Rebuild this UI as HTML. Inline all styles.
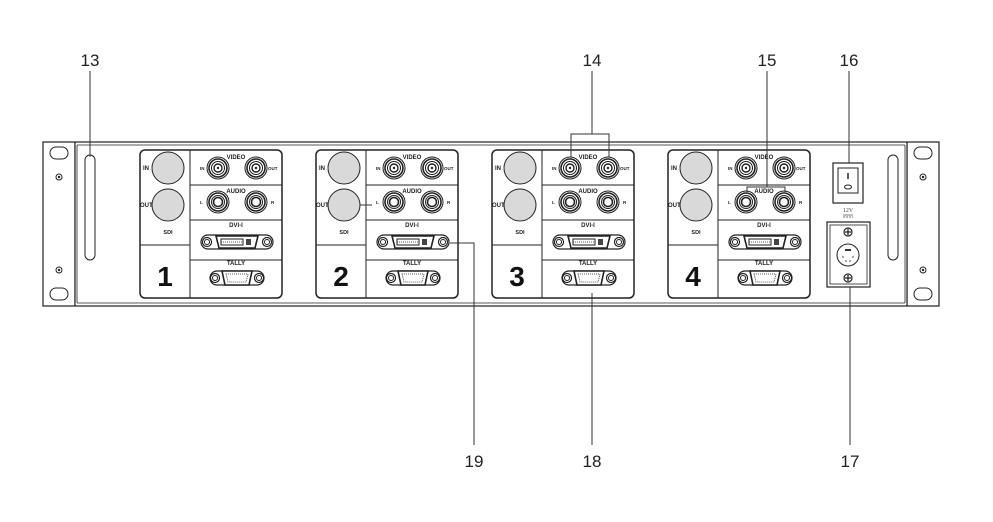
<!DOCTYPE html>
<html><head><meta charset="utf-8"><style>
html,body{margin:0;padding:0;background:#fff;}
svg{display:block;font-family:"Liberation Sans",Arial,sans-serif;}
</style></head><body>
<svg width="993" height="522" viewBox="0 0 993 522" xmlns="http://www.w3.org/2000/svg">
<defs>
<g id="bnc">
  <circle r="11" fill="#fff" stroke="#222" stroke-width="1"/>
  <circle r="9" fill="none" stroke="#222" stroke-width="1.6"/>
  <circle r="6.5" fill="none" stroke="#222" stroke-width="1"/>
  <circle r="4" fill="none" stroke="#222" stroke-width="1.4"/>
  <circle r="1.2" fill="#222"/>
</g>
<g id="rca">
  <circle r="11" fill="#fff" stroke="#222" stroke-width="1"/>
  <circle r="9" fill="none" stroke="#222" stroke-width="1.6"/>
  <circle r="6.5" fill="none" stroke="#222" stroke-width="1"/>
  <circle r="4.5" fill="none" stroke="#222" stroke-width="1.6"/>
</g>
<g id="scr">
  <circle r="4.5" fill="#fff" stroke="#222" stroke-width="1.2"/>
  <circle r="2.5" fill="none" stroke="#222" stroke-width="1"/>
</g>
<g id="mod">
  <rect x="0" y="0" width="142" height="148" rx="5" fill="#fff" stroke="#222" stroke-width="1.5"/>
  <line x1="50" y1="0" x2="50" y2="148" stroke="#222" stroke-width="1"/>
  <line x1="0" y1="95" x2="50" y2="95" stroke="#222" stroke-width="1"/>
  <line x1="50" y1="35" x2="142" y2="35" stroke="#222" stroke-width="1"/>
  <line x1="50" y1="70" x2="142" y2="70" stroke="#222" stroke-width="1"/>
  <line x1="50" y1="110" x2="142" y2="110" stroke="#222" stroke-width="1"/>
  <circle cx="28" cy="18" r="16" fill="#d9d9d9" stroke="#222" stroke-width="1"/>
  <circle cx="28" cy="55" r="16" fill="#d9d9d9" stroke="#222" stroke-width="1"/>
  <text x="3" y="20" font-size="6" font-weight="bold" fill="#222">IN</text>
  <text x="0" y="57" font-size="6" font-weight="bold" fill="#222">OUT</text>
  <text x="28" y="84" font-size="5.5" font-weight="bold" fill="#222" text-anchor="middle">SDI</text>
  <text x="96" y="9" font-size="6" font-weight="bold" fill="#222" text-anchor="middle">VIDEO</text>
  <text x="96" y="43" font-size="6" font-weight="bold" fill="#222" text-anchor="middle">AUDIO</text>
  <text x="96" y="77" font-size="6" font-weight="bold" fill="#222" text-anchor="middle">DVI-I</text>
  <text x="96" y="115" font-size="6" font-weight="bold" fill="#222" text-anchor="middle">TALLY</text>
  <text x="60" y="20" font-size="4.5" font-weight="bold" fill="#222">IN</text>
  <text x="128" y="20" font-size="4.5" font-weight="bold" fill="#222">OUT</text>
  <text x="60" y="54" font-size="4.5" font-weight="bold" fill="#222">L</text>
  <text x="131" y="54" font-size="4.5" font-weight="bold" fill="#222">R</text>
  <use href="#bnc" x="78" y="18"/><use href="#bnc" x="116" y="18"/>
  <use href="#rca" x="78" y="52"/><use href="#rca" x="116" y="52"/>
  <!-- DVI -->
  <rect x="61" y="85" width="72" height="14" rx="7" fill="#fff" stroke="#222" stroke-width="1.2"/>
  <use href="#scr" x="67" y="92"/><use href="#scr" x="127" y="92"/>
  <path d="M76 86 H118 L115 98 H79 Z" fill="#fff" stroke="#222" stroke-width="1.6"/>
  <rect x="81" y="89" width="22" height="6" fill="none" stroke="#222" stroke-width="1"/>
  <line x1="81" y1="92" x2="103" y2="92" stroke="#222" stroke-width="0.8" stroke-dasharray="1 1"/>
  <rect x="106" y="89" width="5" height="6" fill="#444"/>
  <!-- VGA -->
  <rect x="70" y="121" width="54" height="14" rx="7" fill="#fff" stroke="#222" stroke-width="1.2"/>
  <use href="#scr" x="75" y="128"/><use href="#scr" x="119" y="128"/>
  <path d="M82 121 H112 L109 135 H85 Z" fill="#fff" stroke="#222" stroke-width="1.6"/>
  <path d="M86 124 H108 L106 132 H88 Z" fill="none" stroke="#222" stroke-width="0.8" stroke-dasharray="1 1"/>
</g>
<g id="ear">
  <rect x="0" y="0" width="32" height="164" fill="#fff" stroke="#222" stroke-width="1.2"/>
  <rect x="7" y="5" width="18" height="12" rx="6" fill="#fff" stroke="#222" stroke-width="1"/>
  <rect x="7" y="146" width="18" height="12" rx="6" fill="#fff" stroke="#222" stroke-width="1"/>
  <circle cx="16" cy="35" r="3" fill="#fff" stroke="#222"/><circle cx="16" cy="35" r="1.2" fill="#222"/>
  <circle cx="16" cy="128" r="3" fill="#fff" stroke="#222"/><circle cx="16" cy="128" r="1.2" fill="#222"/>
</g>
</defs>

<!-- chassis -->
<use href="#ear" x="43" y="142"/>
<use href="#ear" x="907" y="142"/>
<rect x="75" y="142" width="832" height="164" fill="#fff" stroke="#222" stroke-width="1.2"/>
<line x1="77" y1="145" x2="905" y2="145" stroke="#222" stroke-width="0.8"/>
<line x1="77" y1="303" x2="905" y2="303" stroke="#222" stroke-width="0.8"/>
<line x1="77" y1="145" x2="77" y2="303" stroke="#222" stroke-width="0.8"/>
<line x1="905" y1="145" x2="905" y2="303" stroke="#222" stroke-width="0.8"/>
<rect x="85" y="155" width="10" height="105" rx="5" fill="#fff" stroke="#222" stroke-width="1"/>
<rect x="888" y="155" width="10" height="105" rx="5" fill="#fff" stroke="#222" stroke-width="1"/>

<use href="#mod" x="140" y="150"/>
<use href="#mod" x="316" y="150"/>
<use href="#mod" x="492" y="150"/>
<use href="#mod" x="668" y="150"/>
<g font-size="28" font-weight="bold" fill="#111" text-anchor="middle">
<text x="165" y="286">1</text><text x="341" y="286">2</text><text x="517" y="286">3</text><text x="693" y="286">4</text>
</g>

<!-- switch -->
<rect x="833" y="163" width="30" height="40" fill="#fff" stroke="#222" stroke-width="1.2"/>
<rect x="838" y="168" width="20" height="25" fill="#fff" stroke="#222" stroke-width="1"/>
<line x1="848" y1="173" x2="848" y2="179" stroke="#222" stroke-width="1.5"/>
<ellipse cx="848" cy="187" rx="3.5" ry="2" fill="none" stroke="#222"/>
<text x="848" y="212" font-size="6" fill="#444" text-anchor="middle" font-family="Liberation Serif">12V</text>
<line x1="843" y1="215" x2="853" y2="215" stroke="#444" stroke-width="0.7"/>
<line x1="843" y1="217" x2="853" y2="217" stroke="#444" stroke-width="0.7" stroke-dasharray="2 1"/>
<!-- power connector -->
<rect x="827" y="222" width="43" height="65" fill="#fff" stroke="#222" stroke-width="1.2"/>
<rect x="830" y="225" width="37" height="59" fill="#fff" stroke="#222" stroke-width="0.8"/>
<circle cx="848" cy="232" r="4" fill="#fff" stroke="#222" stroke-width="1.2"/>
<path d="M845 232 H851 M848 229 V235" stroke="#222" stroke-width="1.3"/>
<circle cx="848" cy="278" r="4" fill="#fff" stroke="#222" stroke-width="1.2"/>
<path d="M845 278 H851 M848 275 V281" stroke="#222" stroke-width="1.3"/>
<circle cx="848" cy="255" r="11" fill="#fff" stroke="#222" stroke-width="1"/>
<rect x="845" y="249" width="6" height="2" fill="#333"/>
<circle cx="843" cy="257" r="0.8" fill="#333"/><circle cx="853" cy="257" r="0.8" fill="#333"/>
<circle cx="846" cy="261" r="0.8" fill="#333"/><circle cx="850" cy="261" r="0.8" fill="#333"/>

<!-- leaders -->
<g stroke="#333" stroke-width="1" fill="none">
<line x1="90" y1="71" x2="90" y2="157"/>
<line x1="592" y1="71" x2="592" y2="134"/>
<polyline points="571,157 571,134 609,134 609,157"/>
<line x1="767" y1="71" x2="767" y2="187"/>
<polyline points="747,192 747,187 785,187 785,192"/>
<line x1="849" y1="71" x2="849" y2="163"/>
<line x1="850" y1="287" x2="850" y2="445"/>
<line x1="592" y1="293" x2="592" y2="445"/>
<polyline points="450,243 474,243 474,445"/>
<line x1="360" y1="205" x2="372" y2="205"/>
</g>
<g font-size="17" fill="#222" text-anchor="middle">
<text x="90" y="66">13</text>
<text x="592" y="66">14</text>
<text x="767" y="66">15</text>
<text x="849" y="66">16</text>
<text x="474" y="467">19</text>
<text x="592" y="467">18</text>
<text x="850" y="467">17</text>
</g>
</svg>
</body></html>
